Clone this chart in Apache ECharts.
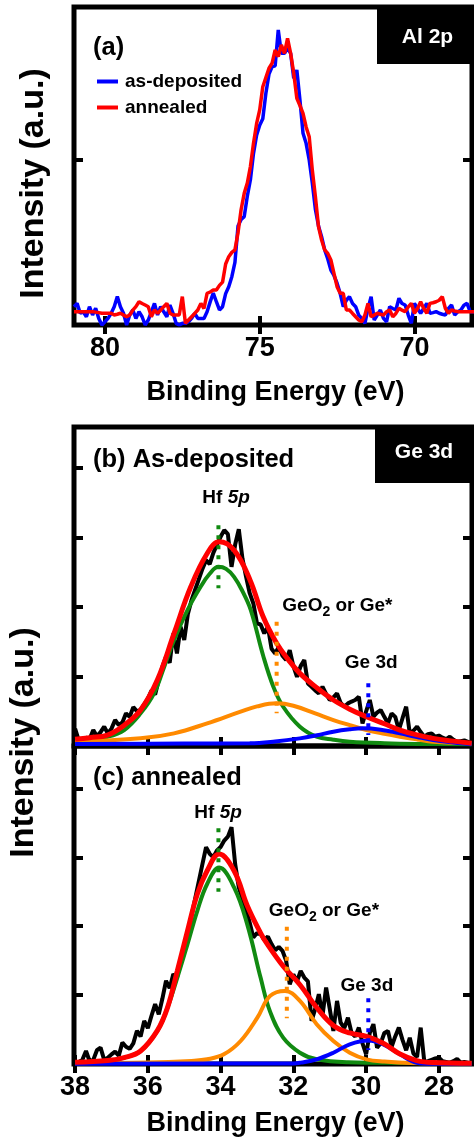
<!DOCTYPE html>
<html><head><meta charset="utf-8">
<script src="https://cdn.jsdelivr.net/npm/echarts@6/dist/echarts.min.js"></script>
<style>html,body{margin:0;padding:0;background:#fff}#c{width:474px;height:1140px}</style>
</head><body><div id="c"></div>
<script>
// ---------- Panel (a): Al 2p ----------
const alEnergy = [81.0,80.9,80.8,80.7,80.6,80.5,80.4,80.3,80.2,80.1,
80.0,79.9,79.8,79.7,79.6,79.5,79.4,79.3,79.2,79.1,
79.0,78.9,78.8,78.7,78.6,78.5,78.4,78.3,78.2,78.1,
78.0,77.9,77.8,77.7,77.6,77.5,77.4,77.3,77.2,77.1,
77.0,76.9,76.8,76.7,76.6,76.5,76.4,76.3,76.2,76.1,
76.0,75.9,75.8,75.7,75.6,75.5,75.4,75.3,75.2,75.1,
75.0,74.9,74.8,74.7,74.6,74.5,74.4,74.3,74.2,74.1,
74.0,73.9,73.8,73.7,73.6,73.5,73.4,73.3,73.2,73.1,
73.0,72.9,72.8,72.7,72.6,72.5,72.4,72.3,72.2,72.1,
72.0,71.9,71.8,71.7,71.6,71.5,71.4,71.3,71.2,71.1,
71.0,70.9,70.8,70.7,70.6,70.5,70.4,70.3,70.2,70.1,
70.0,69.9,69.8,69.7,69.6,69.5,69.4,69.3,69.2,69.1,
69.0,68.9,68.8,68.7,68.6,68.5,68.4,68.3,68.2,68.1,
68.0];
const alAsDeposited = [111,131,71,80,50,111,61,101,40,0,
20,40,71,110,172,110,71,0,60,91,
40,81,50,0,30,80,131,61,111,80,
50,121,71,10,0,10,10,20,40,71,
40,40,40,80,140,194,141,91,111,190,
232,293,380,600,640,657,780,880,1040,1150,
1210,1250,1404,1520,1565,1570,1788,1646,1646,1677,
1646,1495,1545,1364,1162,1101,1000,860,700,600,
535,455,400,333,300,253,192,111,150,172,
130,111,60,40,10,100,172,30,60,91,
40,20,111,100,91,162,130,121,60,10,
131,100,71,100,131,71,75,81,71,65,
61,100,121,61,80,91,120,131,81,81,
81];
const alAnnealed = [81,81,81,81,81,81,81,78,75,71,
71,71,71,61,65,71,60,50,61,90,
111,141,130,121,111,50,91,71,90,111,
131,71,61,61,61,172,10,30,50,70,
91,131,100,192,200,212,212,240,260,370,
414,440,455,560,700,798,860,960,1101,1220,
1303,1444,1500,1556,1586,1667,1626,1697,1646,1737,
1646,1525,1374,1330,1283,1200,1141,939,778,596,
515,455,434,394,313,232,192,192,91,91,
70,50,30,20,61,131,50,60,71,65,
61,80,91,50,70,101,90,81,110,131,
71,100,141,100,71,131,135,141,150,172,
100,71,91,85,81,81,81,81,81,81,
81];
const alTicks = [80, 75, 70];
const alYTicks = [1000];

// ---------- Panels (b),(c): Ge 3d ----------
const geEnergy = [38.0,37.9,37.8,37.7,37.6,37.5,37.4,37.3,37.2,37.1,
37.0,36.9,36.8,36.7,36.6,36.5,36.4,36.3,36.2,36.1,
36.0,35.9,35.8,35.7,35.6,35.5,35.4,35.3,35.2,35.1,
35.0,34.9,34.8,34.7,34.6,34.5,34.4,34.3,34.2,34.1,
34.0,33.9,33.8,33.7,33.6,33.5,33.4,33.3,33.2,33.1,
33.0,32.9,32.8,32.7,32.6,32.5,32.4,32.3,32.2,32.1,
32.0,31.9,31.8,31.7,31.6,31.5,31.4,31.3,31.2,31.1,
31.0,30.9,30.8,30.7,30.6,30.5,30.4,30.3,30.2,30.1,
30.0,29.9,29.8,29.7,29.6,29.5,29.4,29.3,29.2,29.1,
29.0,28.9,28.8,28.7,28.6,28.5,28.4,28.3,28.2,28.1,
28.0,27.9,27.8,27.7,27.6,27.5,27.4,27.3,27.2,27.1,
27.0];
const bMeasured = [250,80,60,120,100,230,140,200,280,180,
250,374,300,340,470,420,560,500,520,600,
680,800,740,950,1141,1285,1200,1621,1333,1717,
1525,1900,2100,2250,2400,2550,2676,2620,2780,2900,
3012,3108,3050,2580,2900,3120,2700,2436,2200,2052,
1765,1750,1621,1717,1400,1333,1429,1300,1237,1381,
1150,997,1150,1237,900,853,800,758,853,750,
662,700,758,620,566,614,640,662,710,326,
500,662,422,480,518,420,326,470,420,230,
400,566,182,220,278,200,134,170,182,134,
150,120,100,134,90,60,70,80,60,40,
40];
const cMeasured = [20,30,60,189,40,60,200,237,60,90,
140,180,120,310,250,220,300,480,400,625,
520,700,868,720,950,1208,1100,1305,1250,1500,
1700,1900,2150,2400,2650,2900,3145,3050,3000,3100,
3150,3243,3300,3437,2900,2564,2400,2250,2050,1837,
1900,1886,1800,1850,1740,1650,1700,1643,1500,1158,
1300,1200,1350,1255,1200,625,800,1013,700,1110,
800,480,916,600,520,673,450,400,528,300,
141,450,578,237,300,450,480,250,400,528,
350,200,380,150,100,528,30,40,60,80,
92,40,30,20,40,73,20,30,20,10,
10];

// fitted components, panel (b) as-deposited
const bHfE = [38.0,37.6,37.1,36.65,36.2,35.83,35.55,35.28,34.91,34.55,34.3,34.06,33.85,33.63,33.4,33.17,32.83,32.55,32.28,31.82,31.36,30.9,30.45,29.5,28.5,27.1];
const bHfV = [86,105,134,230,470,758,1141,1525,1957,2292,2480,2580,2550,2436,2230,1957,1300,853,565,278,134,90,62,40,30,25];
const bOxE = [38.0,36.2,35.28,34.37,33.45,33.0,32.46,32.0,31.4,30.9,30.45,29.99,29.5,29.07,28.6,28.16,27.1];
const bOxV = [62,110,182,326,494,570,614,580,470,374,300,230,175,134,95,62,40];
const bGeE = [38.0,35.0,33.2,32.5,31.82,31.35,30.9,30.45,30.1,29.6,29.07,28.6,28.16,27.6,27.1];
const bGeV = [30,35,39,65,110,155,206,240,254,235,182,130,86,50,24];
const bSumE = [38.0,37.6,37.11,36.65,36.2,35.74,35.28,34.82,34.37,34.04,33.63,33.19,32.83,32.46,32.15,31.82,31.36,30.9,30.45,29.99,29.5,29.07,28.6,28.16,27.6,27.1];
const bSumV = [96,120,158,300,518,950,1621,2292,2772,2940,2820,2388,1860,1478,1250,1046,840,662,530,422,320,230,160,110,70,39];

// fitted components, panel (c) annealed
const cHfE = [38.0,37.1,36.65,36.2,35.74,35.46,35.19,34.91,34.64,34.37,34.04,33.63,33.27,32.9,32.64,32.28,31.82,31.36,30.5,29.0,27.1];
const cHfV = [19,40,92,189,480,818,1254,1740,2224,2612,2850,2563,2030,1250,760,382,164,68,25,15,10];
const cOxE = [38.0,36.0,34.8,34.37,33.91,33.45,32.99,32.64,32.23,31.82,31.36,30.9,30.45,29.99,29.5,28.8,27.1];
const cOxV = [10,20,45,68,141,334,673,988,1061,916,578,334,164,68,35,15,10];
const cGeE = [38.0,32.0,31.8,31.36,30.9,30.45,29.94,29.53,29.07,28.61,28.2,27.1];
const cGeV = [5,8,20,68,164,286,340,286,141,19,5,5];
const cSumE = [38.0,37.1,36.65,36.2,35.74,35.46,35.19,34.91,34.64,34.37,34.04,33.63,33.27,32.9,32.73,32.28,31.82,31.36,30.9,30.45,29.99,29.53,29.07,28.61,28.16,27.1];
const cSumV = [25,50,92,189,484,818,1352,1933,2467,2805,3048,2805,2300,1900,1750,1420,1150,820,560,450,400,300,145,50,20,10];

// peak-position markers (dotted) and annotations: Hf 5p, GeO2/Ge*, Ge 3d
const peakColors = ['#118a11', '#ff8a00', '#0000ff'];
const bPeakE = [34.06, 32.46, 29.94], bPeakTop = [3180, 1789, 902], bPeakBot = [2273, 470, 158];
const cPeakE = [34.06, 32.18, 29.94], cPeakTop = [3421, 1993, 954], cPeakBot = [2501, 663, 203];
const peakLabels = ['{n|Hf }{i|5p}', '{n|GeO}{s|2}{n| or Ge*}', '{n|Ge 3d}'];
const bLabelE = [33.85, 30.79, 29.86], bLabelV = [3573, 2017, 1196];
const cLabelE = [34.07, 31.16, 29.98], cLabelV = [3643, 2221, 1132];
const geTicks = [38, 36, 34, 32, 30, 28];
const geYTicks = [1000, 2000, 3000, 4000];

// ---------- chart ----------
const FONT = '"Liberation Sans", Arial, Helvetica, sans-serif';
const zip = (xs, ys) => xs.map((x, i) => [x, ys[i]]);

const gridDefs = [
  {left:74, top:7, width:398, height:318},
  {left:74, top:427, width:398, height:319},
  {left:74, top:746, width:398, height:318}
];
const grid = gridDefs.map(g => Object.assign({show:true, borderColor:'#000', borderWidth:5,
  backgroundColor:'rgba(0,0,0,0)', outerBoundsMode:'none', containLabel:false}, g));

function xAx(gi, pos, min, max, ticks, showLabels) {
  return {type:'value', gridIndex:gi, position:pos, inverse:true, min:min, max:max,
    axisLine:{show:false}, splitLine:{show:false},
    axisTick:{show:true, inside:true, length:9, customValues:ticks, lineStyle:{color:'#000', width:4}},
    axisLabel:{show:showLabels, customValues:ticks, margin:10, hideOverlap:false,
      fontSize:27, fontWeight:'bold', color:'#000', fontFamily:FONT}};
}
function yAx(gi, pos, max, ticks) {
  return {type:'value', gridIndex:gi, position:pos, min:0, max:max,
    axisLine:{show:false}, splitLine:{show:false}, axisLabel:{show:false},
    axisTick:{show:true, inside:true, length:9, customValues:ticks, lineStyle:{color:'#000', width:4}}};
}
const xAxis = [
  xAx(0,'bottom',68.14,81.0,alTicks,true), xAx(0,'top',68.14,81.0,alTicks,false),
  xAx(1,'bottom',27.09,38.03,geTicks,false), xAx(1,'top',27.09,38.03,geTicks,false),
  xAx(2,'bottom',27.09,38.03,geTicks,true), xAx(2,'top',27.09,38.03,geTicks,false)
];
const yAxis = [
  yAx(0,'left',1927,alYTicks), yAx(0,'right',1927,alYTicks),
  yAx(1,'left',4593,geYTicks), yAx(1,'right',4593,geYTicks),
  yAx(2,'left',4615,geYTicks), yAx(2,'right',4615,geYTicks)
];

function ln(name, ax, data, color, width, z) {
  return {type:'line', name:name, xAxisIndex:ax, yAxisIndex:ax, data:data, showSymbol:false,
    symbol:'none', lineStyle:{color:color, width:width}, itemStyle:{color:color}, z:z, silent:true};
}
function smoothLn(name, ax, data, color, width, z) {
  const s = ln(name, ax, data, color, width, z); s.smooth = 0.4; return s;
}
const plain = {color:'#000', textBorderWidth:0, textBorderColor:'transparent', textShadowBlur:0, opacity:1};
const richStyle = {
  n:Object.assign({fontSize:19, fontWeight:'bold', fontFamily:FONT}, plain),
  i:Object.assign({fontSize:19, fontWeight:'bold', fontStyle:'italic', fontFamily:FONT}, plain),
  s:Object.assign({fontSize:14, lineHeight:14, fontWeight:'bold', fontFamily:FONT, padding:[12,0,0,0]}, plain)
};
function labels(ax, es, vs) {
  return {type:'scatter', xAxisIndex:ax, yAxisIndex:ax, symbolSize:1, silent:true, z:20,
    itemStyle:{color:'rgba(0,0,0,0)'},
    data: es.map((e, i) => ({value:[e, vs[i]], label:{formatter:peakLabels[i]}})),
    label:Object.assign({show:true, position:'inside', rich:richStyle}, plain)};
}
function markers(ax, es, tops, bots) {
  return es.map((e, i) => ({type:'line', xAxisIndex:ax, yAxisIndex:ax, showSymbol:false, symbol:'none',
    silent:true, z:15, data:[[e, tops[i]], [e, bots[i]]],
    lineStyle:{color:peakColors[i], width:4, type:[4,6], cap:'butt'}}));
}

const series = [
  ln('as-deposited', 0, zip(alEnergy, alAsDeposited), '#0000ff', 3.5, 3),
  ln('annealed', 0, zip(alEnergy, alAnnealed), '#ff0000', 3.5, 4),

  ln('b-measured', 2, zip(geEnergy, bMeasured), '#000', 4, 2),
  smoothLn('b-hf', 2, zip(bHfE, bHfV), peakColors[0], 4, 3),
  smoothLn('b-ox', 2, zip(bOxE, bOxV), peakColors[1], 4, 3),
  smoothLn('b-ge', 2, zip(bGeE, bGeV), peakColors[2], 4, 4),
  smoothLn('b-sum', 2, zip(bSumE, bSumV), '#ff0000', 5, 5),
  ...markers(2, bPeakE, bPeakTop, bPeakBot),
  labels(2, bLabelE, bLabelV),

  ln('c-measured', 4, zip(geEnergy, cMeasured), '#000', 4, 2),
  smoothLn('c-hf', 4, zip(cHfE, cHfV), peakColors[0], 4, 3),
  smoothLn('c-ox', 4, zip(cOxE, cOxV), peakColors[1], 4, 3),
  smoothLn('c-ge', 4, zip(cGeE, cGeV), peakColors[2], 4, 4),
  smoothLn('c-sum', 4, zip(cSumE, cSumV), '#ff0000', 5, 5),
  ...markers(4, cPeakE, cPeakTop, cPeakBot),
  labels(4, cLabelE, cLabelV)
];

function txt(x, y, text, size, align, rot) {
  return {type:'text', x:x, y:y, rotation:rot || 0, z:100,
    style:{text:text, fill:'#000', font:'bold ' + size + 'px ' + FONT,
      textAlign:align, textVerticalAlign:'middle', align:align, verticalAlign:'middle'}};
}
function boxLabel(x, y, w, h, text, cx, cy) {
  return [
    {type:'rect', shape:{x:x, y:y, width:w, height:h}, style:{fill:'#000'}, z:100},
    {type:'text', x:cx, y:cy, z:101, style:{text:text, fill:'#fff', font:'bold 21px ' + FONT,
      textAlign:'center', textVerticalAlign:'middle', align:'center', verticalAlign:'middle'}}
  ];
}

const graphic = [
  txt(33.5, 183.5, 'Intensity (a.u.)', 34, 'center', Math.PI/2),
  txt(24, 742.5, 'Intensity (a.u.)', 34, 'center', Math.PI/2),
  txt(275.5, 393, 'Binding Energy (eV)', 27, 'center'),
  txt(275.5, 1124, 'Binding Energy (eV)', 27, 'center'),
  txt(93, 48, '(a)', 25.5, 'left'),
  txt(93, 460, '(b) As-deposited', 25.5, 'left'),
  txt(93, 778, '(c) annealed', 25.5, 'left'),
  ...boxLabel(377, 5, 97, 59, 'Al 2p', 427.5, 37),
  ...boxLabel(375, 425, 99, 58, 'Ge 3d', 424, 452)
];

const chart = echarts.init(document.getElementById('c'), null, {renderer:'canvas', width:474, height:1140});
chart.setOption({
  animation:false,
  backgroundColor:'#fff',
  grid:grid, xAxis:xAxis, yAxis:yAxis, series:series, graphic:graphic,
  legend:{data:['as-deposited','annealed'], orient:'vertical', left:97, top:72, padding:0,
    itemWidth:21, itemHeight:4, itemGap:7, icon:'rect', selectedMode:false,
    textStyle:{fontSize:19, fontWeight:'bold', fontFamily:FONT, color:'#000', padding:[0,0,0,2]}}
});
</script></body></html>
